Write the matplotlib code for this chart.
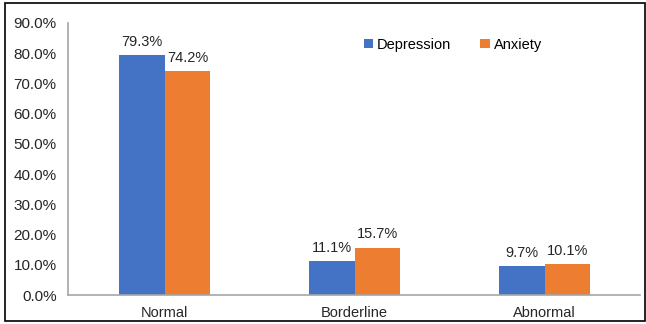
import numpy as np
import matplotlib.pyplot as plt
from matplotlib.patches import Rectangle

categories = ["Normal", "Borderline", "Abnormal"]
depression = [79.3, 11.1, 9.7]
anxiety = [74.2, 15.7, 10.1]
y_ticks = [0, 10, 20, 30, 40, 50, 60, 70, 80, 90]

plt.rcParams["font.family"] = ["Liberation Sans", "DejaVu Sans"]
plt.rcParams["font.size"] = 10.5

fig = plt.figure(figsize=(6.46, 3.24), dpi=100)
ax = fig.add_axes([0.105, 0.0895, 0.885, 0.84])

x = np.arange(len(categories))
w = 0.24

b1 = ax.bar(x - w / 2, depression, w, color="#4472C4", label="Depression")
b2 = ax.bar(x + w / 2, anxiety, w, color="#ED7D31", label="Anxiety")

for bars, vals in [(b1, depression), (b2, anxiety)]:
    for bar, v in zip(bars, vals):
        ax.text(
            bar.get_x() + bar.get_width() / 2,
            v + 2.0,
            f"{v:.1f}%",
            ha="center",
            va="bottom",
            fontsize=10.5,
            color="#262626"
        )

ax.set_xlim(-0.51, 2.5)
ax.set_ylim(0, 90)
ax.set_yticks(y_ticks)
ax.set_yticklabels([f"{t:.1f}%" for t in y_ticks], color="#262626", fontsize=11)
ax.set_xticks(x)
ax.set_xticklabels(categories, color="#262626", fontsize=10.5)
ax.tick_params(length=0)
ax.tick_params(axis="x", pad=8)
ax.tick_params(axis="y", pad=8)

for s in ["top", "right"]:
    ax.spines[s].set_visible(False)
for s in ["left", "bottom"]:
    ax.spines[s].set_color("#A6A6A6")
    ax.spines[s].set_linewidth(1.2)

ax.legend(
    loc="center left",
    bbox_to_anchor=(0.495, 0.92),
    ncol=2,
    frameon=False,
    handlelength=0.65,
    handleheight=0.65,
    handletextpad=0.25,
    columnspacing=2.0,
    fontsize=10.5
)

fig.patches.append(
    Rectangle(
        (0.008, 0.008), 0.99, 0.982,
        transform=fig.transFigure,
        fill=False,
        edgecolor="#000000",
        linewidth=1.2
    )
)

fig.savefig("out.png", dpi=100)
